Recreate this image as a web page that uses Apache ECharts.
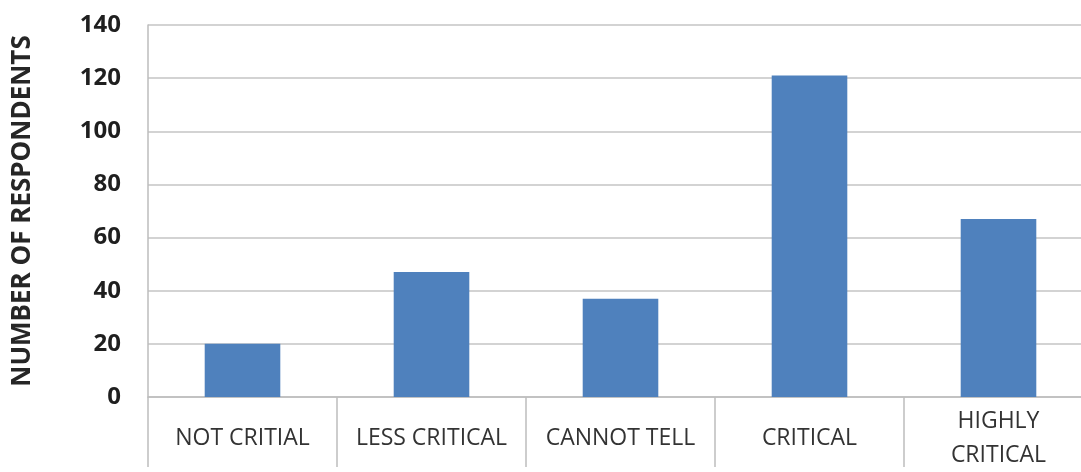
<!DOCTYPE html>
<html>
<head>
<meta charset="utf-8">
<script src="https://cdn.jsdelivr.net/npm/echarts@6/dist/echarts.min.js"></script>
<style>
  html, body { margin: 0; padding: 0; background: #fff; overflow: hidden; }
  /* the plot runs a little past the right edge, so the chart is wider than its frame */
  #frame { width: 1081px; height: 472px; overflow: hidden; position: relative; }
  #chart { width: 1093px; height: 472px; position: absolute; left: 0; top: 0; }
</style>
</head>
<body>
<div id="frame"><div id="chart"></div></div>
<script>
// Survey responses per criticality rating
const categories = ['NOT CRITIAL', 'LESS CRITICAL', 'CANNOT TELL', 'CRITICAL', 'HIGHLY\nCRITICAL'];
const respondents = [20, 47, 37, 121, 67];
const yTicks = [0, 20, 40, 60, 80, 100, 120, 140];
const yTitle = 'NUMBER OF RESPONDENTS';

const chart = echarts.init(document.getElementById('chart'), null, { renderer: 'canvas' });

chart.setOption({
  animation: false,
  backgroundColor: '#ffffff',
  grid: { left: 148, right: 0, top: 25, bottom: 68.5, containLabel: false },
  xAxis: {
    type: 'category',
    data: categories,
    boundaryGap: true,
    axisLine: { show: true, lineStyle: { color: '#bdbdbd', width: 1.5 } },
    axisTick: { show: true, length: 70, alignWithLabel: false, lineStyle: { color: '#bdbdbd', width: 1.5 } },
    axisLabel: {
      interval: 0,
      margin: 41,
      verticalAlign: 'middle',
      fontFamily: 'Open Sans',
      fontSize: 23,
      lineHeight: 34,
      color: '#333333'
    },
    splitLine: { show: false }
  },
  yAxis: {
    type: 'value',
    min: yTicks[0],
    max: yTicks[yTicks.length - 1],
    interval: yTicks[1] - yTicks[0],
    name: yTitle,
    nameLocation: 'middle',
    nameGap: 112,
    nameRotate: 90,
    nameTextStyle: {
      fontFamily: 'Open Sans',
      fontWeight: 'bold',
      fontSize: 26,
      color: '#262626'
    },
    axisLine: { show: true, lineStyle: { color: '#bdbdbd', width: 1.5 } },
    axisTick: { show: false },
    axisLabel: {
      margin: 27,
      fontFamily: 'Open Sans',
      fontWeight: 'bold',
      fontSize: 24,
      color: '#1f1f1f'
    },
    splitLine: { show: true, lineStyle: { color: '#c4c4c4', width: 1.5 } }
  },
  series: [{
    type: 'bar',
    data: respondents,
    barCategoryGap: '60%',
    itemStyle: { color: '#4f81bd' }
  }]
});
</script>
</body>
</html>
